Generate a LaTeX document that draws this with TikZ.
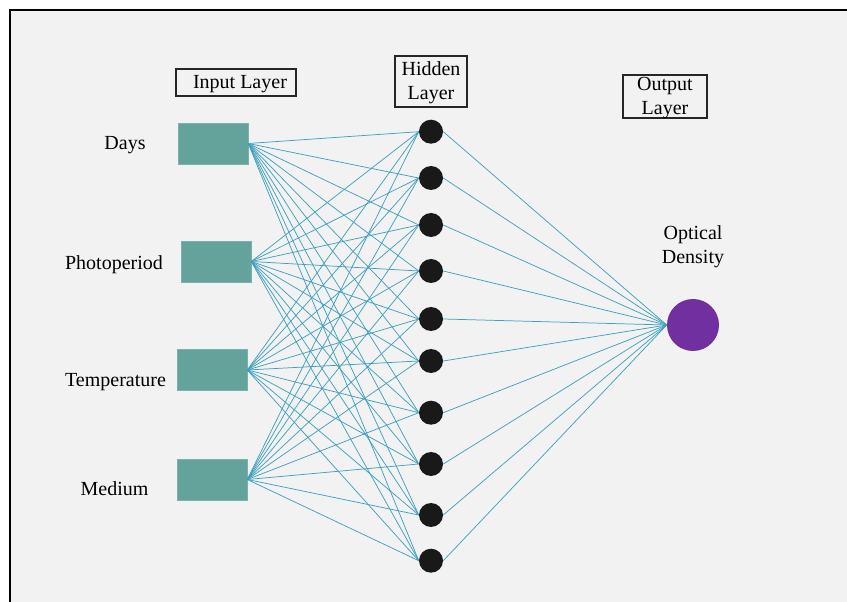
\documentclass[tikz,border=0pt]{standalone}
\usepackage{fontspec}
\setmainfont{Liberation Serif}

\definecolor{panelgray}{RGB}{242,242,242}
\definecolor{inputteal}{RGB}{100,163,156}
\definecolor{linkblue}{RGB}{62,160,192}
\definecolor{outpurple}{RGB}{112,48,160}

\begin{document}
\begin{tikzpicture}[x=0.75pt, y=-0.75pt,
    inbox/.style={rectangle, fill=inputteal, draw=inputteal!85!white, minimum width=52.5pt, minimum height=30.75pt, inner sep=0pt},
    hidnode/.style={circle, fill=black!90, minimum size=18pt, inner sep=0pt},
    outnode/.style={circle, fill=outpurple, minimum size=39pt, inner sep=0pt},
    layerbox/.style={rectangle, draw=black!85, line width=0.8pt, align=center, inner sep=1pt, text depth=0.3ex, font=\fontsize{15}{18}\selectfont},
    txt/.style={align=center, inner sep=0pt, text depth=0.3ex, font=\fontsize{15}{18}\selectfont},
    link/.style={draw=linkblue, line width=0.55pt}
]

% Page and panel
\useasboundingbox (0,0) rectangle (847,602);
\fill[panelgray] (10,10) rectangle (847,602);
\draw[line width=1.6pt] (10,602) -- (10,10) -- (847,10);

% Layer titles
\node[layerbox, minimum width=90pt, minimum height=20.25pt] (inputtitle) at (236,82.5) {\hspace{6pt}Input Layer};
\node[layerbox, minimum width=54pt, minimum height=38.25pt] (hiddentitle) at (431,81.5) {Hidden\\Layer};
\node[layerbox, minimum width=63pt, minimum height=32.25pt, inner sep=0pt] (outputtitle) at (665,96.5) {Output\\Layer};

% Input layer
\node[inbox] (days)   at (213,143.5) {};
\node[inbox] (photo)  at (216,261.5) {};
\node[inbox] (temp)   at (212,370)   {};
\node[inbox] (medium) at (212,479.5) {};

\node[txt] (dayslabel)   at (125,144)   {Days};
\node[txt] (photolabel)  at (114,263)   {Photoperiod};
\node[txt] (templabel)   at (115.5,381) {Temperature};
\node[txt] (mediumlabel) at (114.5,489) {Medium};

% Hidden layer
\foreach \y [count=\k] in {131.7,178,225,271,319,361,412.7,464,515,560.7}
  \node[hidnode] (h\k) at (431,\y) {};

% Output layer
\node[outnode] (out) at (693,325) {};
\node[txt] (outlabel) at (693,245) {Optical\\Density};

% Connections
\foreach \i in {days,photo,temp,medium}
  \foreach \k in {1,...,10}
    \draw[link] (\i.east) -- (h\k.west);
\foreach \k in {1,...,10}
  \draw[link] (h\k.east) -- (out.west);

\end{tikzpicture}
\end{document}
